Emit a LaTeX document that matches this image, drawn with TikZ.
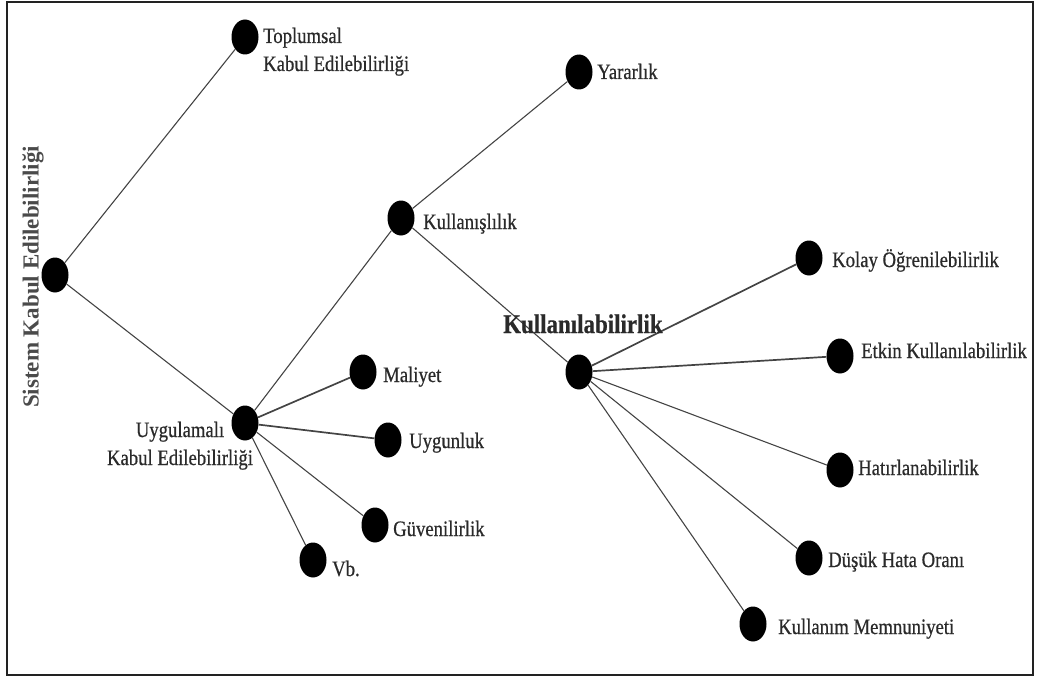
\documentclass[tikz,border=0pt]{standalone}
\usepackage{fontspec}
\setmainfont{Liberation Serif}
\newfontfamily\labfont[FakeStretch=0.85,FakeBold=0.6]{Liberation Serif}
\newfontfamily\titlefont{Liberation Serif}
\usetikzlibrary{shapes.geometric}
\definecolor{ink}{HTML}{2A2A2A}
\definecolor{titleink}{HTML}{4A4A4A}
\definecolor{wire}{HTML}{444444}
\definecolor{frame}{HTML}{222222}

\begin{document}
\begin{tikzpicture}[x=1pt,y=-1pt,
  dot/.style={ellipse,fill=black,minimum width=27pt,minimum height=35pt,inner sep=0pt},
  lab/.style={anchor=base west,inner sep=0pt,text=ink,font=\labfont\fontsize{22}{28}\selectfont},
  biglab/.style={anchor=base west,inner sep=0pt,text=ink,font=\labfont\bfseries\fontsize{27}{30}\selectfont},
  link/.style={draw=wire,line width=1.1pt},
  heavylink/.style={draw=wire,line width=1.7pt}]

\useasboundingbox (0,0) rectangle (1037,677);
\draw[frame,line width=2pt] (7,2) rectangle (1033,675);

% vertical title along the left edge
\node[rotate=90,inner sep=0pt,text=titleink,font=\titlefont\bfseries\fontsize{23}{26}\selectfont]
  (title) at (33,277) {Sistem Kabul Edilebilirliği};

% dots
\node[dot] (root) at (55,275) {};
\node[dot] (top)  at (245,37) {};
\node[dot] (uyg)  at (245,423) {};
\node[dot] (kus)  at (401,218) {};
\node[dot] (yar)  at (579,72) {};
\node[dot] (mal)  at (363,372) {};
\node[dot] (uygn) at (388,440) {};
\node[dot] (guv)  at (375,525) {};
\node[dot] (vb)   at (313,560) {};
\node[dot] (kul)  at (579,372) {};
\node[dot] (kol)  at (809,258) {};
\node[dot] (etk)  at (840,356) {};
\node[dot] (hat)  at (840,470) {};
\node[dot] (dus)  at (809,558) {};
\node[dot] (mem)  at (753,624) {};

% connectors
\draw[link] (root) -- (top);
\draw[link] (root) -- (uyg);
\draw[link] (uyg) -- (kus);
\draw[heavylink] (uyg) -- (mal);
\draw[heavylink] (uyg) -- (uygn);
\draw[link] (uyg) -- (guv);
\draw[link] (uyg) -- (vb);
\draw[link] (kus) -- (yar);
\draw[link] (kus) -- (kul);
\draw[heavylink] (kul) -- (kol);
\draw[heavylink] (kul) -- (etk);
\draw[link] (kul) -- (hat);
\draw[link] (kul) -- (dus);
\draw[link] (kul) -- (mem);

% labels
\node[lab] (ltop) at (263,43) {\begin{tabular}[t]{@{}l@{}}Toplumsal\\Kabul Edilebilirliği\end{tabular}};
\node[lab,anchor=base] (luyg) at (180,437) {\begin{tabular}[t]{@{}c@{}}Uygulamalı\\Kabul Edilebilirliği\end{tabular}};
\node[lab] (lkus) at (423,229) {Kullanışlılık};
\node[lab] (lyar) at (597,79) {Yararlık};
\node[lab] (lmal) at (383,382) {Maliyet};
\node[lab] (luygn) at (409,448) {Uygunluk};
\node[lab] (lguv) at (393,536) {Güvenilirlik};
\node[lab] (lvb) at (332,576) {Vb.};
\node[biglab] (lkul) at (503,333) {Kullanılabilirlik};
\node[lab] (lkol) at (832,267) {Kolay Öğrenilebilirlik};
\node[lab] (letk) at (861,358) {Etkin Kullanılabilirlik};
\node[lab] (lhat) at (858,475) {Hatırlanabilirlik};
\node[lab] (ldus) at (828,567) {Düşük Hata Oranı};
\node[lab] (lmem) at (778,634) {Kullanım Memnuniyeti};
\end{tikzpicture}
\end{document}
